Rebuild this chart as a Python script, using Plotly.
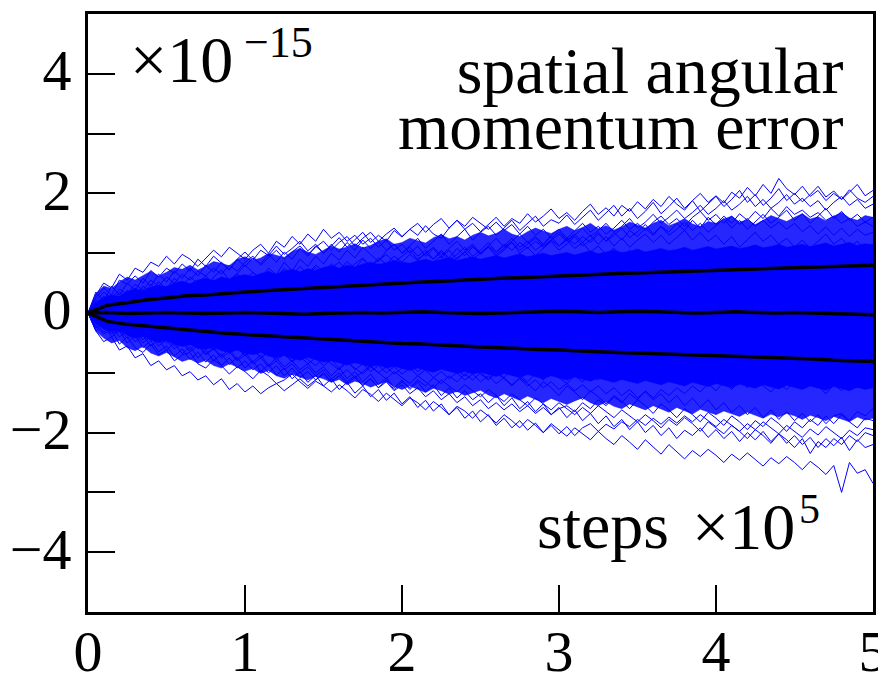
import plotly.graph_objects as go

# sample positions (units of 1e5 steps)
steps = [round(0.05 * i, 2) for i in range(101)]
steps_stats = [round(0.125 * i, 3) for i in range(41)]

# solid core of the ensemble (estimated edge of the fully blue region)
core_upper = [0, 0.18, 0.26, 0.3, 0.28, 0.36, 0.4, 0.37, 0.43, 0.46, 0.44,
              0.5, 0.53, 0.49, 0.55, 0.58, 0.54, 0.6, 0.57, 0.62, 0.64,
              0.61, 0.66, 0.69, 0.65, 0.7, 0.73, 0.69, 0.74, 0.71, 0.76,
              0.79, 0.75, 0.8, 0.77, 0.82, 0.85, 0.81, 0.84, 0.88, 0.85,
              0.83, 0.87, 0.9, 0.86, 0.89, 0.93, 0.88, 0.91, 0.94, 0.9,
              0.93, 0.96, 0.92, 0.95, 0.99, 0.94, 0.97, 1.0, 0.96, 0.98,
              1.01, 0.97, 1.0, 1.04, 0.99, 1.02, 1.05, 1.01, 1.03, 1.07,
              1.02, 1.05, 1.08, 1.04, 1.06, 1.1, 1.05, 1.08, 1.11, 1.07,
              1.09, 1.12, 1.08, 1.1, 1.14, 1.09, 1.11, 1.15, 1.1, 1.12,
              1.15, 1.11, 1.14, 1.17, 1.12, 1.15, 1.18, 1.13, 1.16, 1.14]
core_lower = [0, -0.17, -0.27, -0.31, -0.29, -0.37, -0.42, -0.39, -0.45, -0.49, -0.46,
              -0.52, -0.56, -0.53, -0.58, -0.61, -0.57, -0.63, -0.66, -0.62, -0.67,
              -0.7, -0.66, -0.72, -0.75, -0.71, -0.76, -0.79, -0.74, -0.78, -0.82,
              -0.8, -0.84, -0.87, -0.83, -0.86, -0.9, -0.87, -0.92, -0.89, -0.93,
              -0.96, -0.92, -0.95, -0.99, -0.94, -0.97, -1.01, -0.98, -1.02, -0.99,
              -1.03, -1.06, -1.01, -1.04, -1.08, -1.03, -1.07, -1.1, -1.05, -1.09,
              -1.12, -1.07, -1.11, -1.14, -1.09, -1.13, -1.16, -1.11, -1.15, -1.18,
              -1.13, -1.17, -1.2, -1.15, -1.18, -1.22, -1.16, -1.2, -1.23, -1.18,
              -1.21, -1.25, -1.19, -1.23, -1.26, -1.2, -1.24, -1.27, -1.21, -1.25,
              -1.28, -1.22, -1.26, -1.29, -1.23, -1.27, -1.3, -1.24, -1.28, -1.25]

# dense mesh of overlapping runs around the core (estimated edge)
mesh_upper = [0, 0.32, 0.45, 0.41, 0.52, 0.6, 0.55, 0.63, 0.7, 0.62, 0.68,
              0.76, 0.73, 0.8, 0.72, 0.78, 0.86, 0.83, 0.79, 0.9, 0.94,
              0.88, 0.92, 1.0, 0.97, 0.93, 1.03, 1.08, 1.02, 0.98, 1.05,
              1.12, 1.07, 1.1, 1.16, 1.09, 1.13, 1.2, 1.24, 1.15, 1.18,
              1.25, 1.21, 1.17, 1.26, 1.31, 1.24, 1.28, 1.22, 1.3, 1.35,
              1.29, 1.33, 1.4, 1.32, 1.28, 1.36, 1.42, 1.37, 1.33, 1.4,
              1.45, 1.38, 1.43, 1.5, 1.41, 1.46, 1.39, 1.44, 1.52, 1.47,
              1.42, 1.5, 1.55, 1.46, 1.51, 1.58, 1.49, 1.45, 1.53, 1.5,
              1.57, 1.62, 1.52, 1.56, 1.48, 1.55, 1.63, 1.58, 1.53, 1.6,
              1.66, 1.57, 1.61, 1.54, 1.62, 1.68, 1.59, 1.55, 1.63, 1.6]
mesh_lower = [0, -0.3, -0.42, -0.5, -0.46, -0.58, -0.63, -0.56, -0.67, -0.72, -0.66,
              -0.74, -0.81, -0.77, -0.84, -0.79, -0.88, -0.92, -0.85, -0.9, -0.97,
              -0.93, -1.01, -0.96, -1.05, -1.09, -1.02, -1.07, -1.12, -1.06, -1.1,
              -1.16, -1.11, -1.2, -1.14, -1.18, -1.24, -1.19, -1.15, -1.23, -1.28,
              -1.22, -1.27, -1.33, -1.26, -1.3, -1.36, -1.31, -1.38, -1.34, -1.29,
              -1.37, -1.42, -1.35, -1.4, -1.46, -1.39, -1.44, -1.5, -1.43, -1.48,
              -1.53, -1.47, -1.42, -1.5, -1.55, -1.49, -1.56, -1.6, -1.52, -1.57,
              -1.62, -1.55, -1.6, -1.66, -1.58, -1.63, -1.69, -1.61, -1.65, -1.7,
              -1.64, -1.68, -1.73, -1.66, -1.71, -1.76, -1.69, -1.74, -1.68, -1.72,
              -1.78, -1.71, -1.75, -1.8, -1.73, -1.77, -1.82, -1.74, -1.79, -1.76]

# individual error trajectories (values in units of 1e-15)
run_u1 = [0, 0.25, 0.42, 0.3, 0.55, 0.48, 0.62, 0.5, 0.71, 0.6, 0.75,
          0.66, 0.82, 0.7, 0.9, 0.78, 0.95, 0.84, 0.72, 0.9, 1.02,
          0.88, 1.05, 0.96, 1.12, 0.98, 1.08, 1.2, 1.04, 1.15, 1.0,
          1.12, 1.26, 1.1, 1.22, 1.35, 1.18, 1.3, 1.2, 1.38, 1.27,
          1.4, 1.3, 1.46, 1.32, 1.25, 1.42, 1.55, 1.4, 1.5, 1.36,
          1.48, 1.6, 1.45, 1.58, 1.5, 1.66, 1.52, 1.62, 1.74, 1.58,
          1.68, 1.55, 1.7, 1.82, 1.65, 1.76, 1.62, 1.8, 1.7, 1.86,
          1.74, 1.9, 1.78, 1.95, 1.82, 1.72, 1.88, 2.0, 1.85, 1.96,
          1.84, 2.02, 1.92, 2.1, 1.96, 2.15, 2.0, 2.25, 2.08, 1.98,
          2.12, 1.95, 2.05, 1.88, 2.0, 1.9, 2.06, 1.92, 1.85, 1.95]
run_u2 = [0, -0.1, 0.15, 0.3, 0.2, 0.38, 0.25, 0.45, 0.35, 0.52, 0.4,
          0.58, 0.46, 0.6, 0.5, 0.42, 0.6, 0.72, 0.55, 0.66, 0.8,
          0.68, 0.58, 0.75, 0.64, 0.85, 0.7, 0.9, 0.78, 0.95, 0.82,
          1.0, 0.88, 1.05, 0.92, 1.1, 0.98, 0.86, 1.04, 1.15, 1.0,
          1.12, 1.25, 1.08, 1.2, 1.32, 1.15, 1.28, 1.4, 1.22, 1.35,
          1.45, 1.3, 1.42, 1.55, 1.38, 1.5, 1.62, 1.45, 1.56, 1.5,
          1.64, 1.48, 1.6, 1.72, 1.55, 1.68, 1.8, 1.62, 1.75, 1.58,
          1.7, 1.85, 1.66, 1.78, 1.92, 1.75, 1.88, 1.7, 1.82, 1.95,
          1.78, 1.9, 2.05, 1.85, 1.98, 1.8, 1.92, 2.08, 1.88, 2.0,
          1.86, 1.98, 2.12, 1.94, 2.04, 1.9, 2.02, 2.15, 1.96, 2.05]
run_u3 = [0, 0.3, 0.5, 0.42, 0.65, 0.55, 0.75, 0.68, 0.85, 0.78, 0.95,
          0.82, 0.98, 0.9, 0.78, 0.92, 1.05, 0.94, 1.1, 1.0, 0.9,
          1.05, 1.15, 1.0, 1.2, 1.1, 1.28, 1.15, 1.32, 1.2, 1.4,
          1.25, 1.35, 1.2, 1.3, 1.15, 1.25, 1.1, 1.22, 1.05, 1.15,
          1.0, 1.12, 0.95, 1.08, 0.92, 1.05, 0.9, 1.02, 1.12, 0.98,
          1.1, 0.95, 1.05, 1.18, 1.0, 1.1, 0.96, 1.08, 1.2, 1.05,
          1.15, 1.28, 1.12, 1.22, 1.35, 1.2, 1.3, 1.42, 1.26, 1.36,
          1.48, 1.32, 1.45, 1.3, 1.4, 1.52, 1.38, 1.5, 1.35, 1.46,
          1.58, 1.42, 1.55, 1.4, 1.52, 1.65, 1.5, 1.6, 1.72, 1.55,
          1.66, 1.5, 1.62, 1.75, 1.58, 1.7, 1.55, 1.65, 1.52, 1.6]
run_u4 = [0, 0.12, 0.05, 0.22, 0.15, 0.3, 0.2, 0.35, 0.28, 0.18, 0.32,
          0.42, 0.3, 0.45, 0.38, 0.5, 0.4, 0.55, 0.45, 0.6, 0.5,
          0.62, 0.52, 0.68, 0.58, 0.72, 0.6, 0.5, 0.65, 0.76, 0.62,
          0.75, 0.85, 0.7, 0.82, 0.92, 0.78, 0.88, 0.98, 0.85, 0.95,
          1.05, 0.9, 1.0, 1.1, 0.96, 1.08, 1.2, 1.05, 1.15, 1.0,
          1.12, 1.25, 1.1, 1.2, 1.32, 1.18, 1.28, 1.15, 1.3, 1.4,
          1.25, 1.38, 1.5, 1.35, 1.45, 1.32, 1.42, 1.55, 1.4, 1.5,
          1.38, 1.52, 1.62, 1.48, 1.58, 1.45, 1.6, 1.7, 1.55, 1.65,
          1.5, 1.62, 1.48, 1.58, 1.45, 1.55, 1.42, 1.52, 1.4, 1.5,
          1.36, 1.46, 1.32, 1.44, 1.3, 1.42, 1.28, 1.4, 1.3, 1.35]
run_u5 = [0, 0.2, 0.35, 0.25, 0.4, 0.32, 0.48, 0.38, 0.55, 0.45, 0.6,
          0.5, 0.65, 0.55, 0.7, 0.62, 0.75, 0.65, 0.8, 0.7, 0.85,
          0.95, 0.8, 0.92, 1.05, 0.9, 1.02, 1.12, 0.98, 1.1, 1.2,
          1.05, 1.18, 1.28, 1.12, 1.25, 1.35, 1.2, 1.32, 1.42, 1.28,
          1.4, 1.5, 1.35, 1.48, 1.58, 1.42, 1.55, 1.45, 1.6, 1.5,
          1.4, 1.52, 1.38, 1.48, 1.32, 1.45, 1.3, 1.4, 1.25, 1.36,
          1.22, 1.32, 1.18, 1.3, 1.15, 1.28, 1.12, 1.25, 1.1, 1.22,
          1.32, 1.18, 1.3, 1.15, 1.26, 1.38, 1.22, 1.35, 1.2, 1.3,
          1.15, 1.28, 1.1, 1.22, 1.35, 1.2, 1.3, 1.15, 1.25, 1.1,
          1.22, 1.08, 1.2, 1.32, 1.15, 1.25, 1.1, 1.2, 1.05, 1.15]
run_u6 = [0, 0.1, 0.2, 0.12, 0.28, 0.2, 0.35, 0.25, 0.4, 0.3, 0.45,
          0.35, 0.5, 0.4, 0.3, 0.45, 0.55, 0.42, 0.5, 0.6, 0.48,
          0.58, 0.45, 0.55, 0.65, 0.52, 0.62, 0.5, 0.6, 0.7, 0.58,
          0.68, 0.55, 0.65, 0.75, 0.62, 0.72, 0.82, 0.7, 0.8, 0.68,
          0.78, 0.88, 0.75, 0.85, 0.95, 0.82, 0.92, 1.02, 0.9, 1.0,
          1.1, 0.98, 1.08, 1.18, 1.05, 1.15, 1.25, 1.12, 1.22, 1.32,
          1.2, 1.3, 1.42, 1.28, 1.38, 1.5, 1.35, 1.45, 1.58, 1.42,
          1.52, 1.65, 1.5, 1.6, 1.72, 1.58, 1.68, 1.8, 1.65, 1.75,
          1.88, 1.72, 1.82, 1.95, 1.78, 1.9, 1.75, 1.85, 1.98, 1.82,
          1.92, 1.78, 1.88, 1.72, 1.85, 1.95, 1.8, 1.9, 1.75, 1.82]
run_u7 = [0, 0.35, 0.2, 0.45, 0.3, 0.5, 0.38, 0.58, 0.45, 0.65, 0.52,
          0.7, 0.58, 0.75, 0.62, 0.8, 0.68, 0.85, 0.72, 0.9, 0.78,
          0.92, 0.82, 0.98, 0.85, 1.02, 0.9, 1.08, 0.95, 1.12, 1.0,
          1.15, 1.02, 1.18, 1.05, 1.22, 1.08, 1.2, 1.05, 1.15, 1.0,
          1.1, 0.95, 1.05, 0.9, 1.02, 0.88, 0.98, 1.1, 0.95, 1.05,
          1.18, 1.02, 1.12, 1.25, 1.1, 1.2, 1.05, 1.15, 1.28, 1.12,
          1.22, 1.08, 1.18, 1.02, 1.12, 0.98, 1.08, 0.95, 1.05, 0.92,
          1.02, 0.88, 0.98, 0.85, 0.95, 1.08, 0.92, 1.02, 0.88, 1.0,
          0.85, 0.96, 0.82, 0.92, 1.05, 0.9, 1.0, 0.86, 0.98, 0.84,
          0.95, 0.82, 0.92, 1.04, 0.88, 0.98, 0.85, 0.96, 0.88, 0.95]
run_u8 = [0, 0.15, 0.28, 0.18, 0.35, 0.25, 0.42, 0.3, 0.48, 0.36, 0.25,
          0.4, 0.52, 0.38, 0.5, 0.62, 0.48, 0.6, 0.5, 0.65, 0.55,
          0.68, 0.56, 0.7, 0.6, 0.75, 0.62, 0.78, 0.65, 0.8, 0.7,
          0.82, 0.72, 0.86, 0.75, 0.9, 0.78, 0.92, 0.82, 0.95, 0.85,
          0.98, 0.88, 1.0, 0.9, 1.05, 0.92, 1.08, 0.96, 1.1, 1.0,
          1.12, 1.02, 1.15, 1.05, 1.18, 1.08, 1.2, 1.1, 1.22, 1.12,
          1.25, 1.15, 1.28, 1.18, 1.32, 1.2, 1.35, 1.22, 1.38, 1.28,
          1.42, 1.3, 1.45, 1.35, 1.5, 1.38, 1.55, 1.42, 1.6, 1.48,
          1.62, 1.5, 1.66, 1.55, 1.7, 1.58, 1.75, 1.62, 1.78, 1.65,
          1.72, 1.6, 1.68, 1.55, 1.62, 1.5, 1.58, 1.45, 1.52, 1.45]
run_l1 = [0, -0.22, -0.35, -0.28, -0.52, -0.4, -0.58, -0.66, -0.52, -0.7, -0.62,
          -0.8, -0.7, -0.66, -0.85, -0.92, -0.78, -0.88, -1.02, -0.9, -0.98,
          -1.1, -0.96, -1.05, -1.18, -1.12, -1.02, -1.15, -1.26, -1.14, -1.22,
          -1.32, -1.2, -1.3, -1.42, -1.28, -1.36, -1.48, -1.34, -1.45, -1.55,
          -1.42, -1.5, -1.62, -1.48, -1.58, -1.7, -1.56, -1.64, -1.76, -1.62,
          -1.72, -1.84, -1.7, -1.8, -1.92, -1.78, -1.88, -2.0, -1.85, -1.96,
          -2.06, -1.92, -2.02, -2.12, -1.98, -2.1, -2.2, -2.05, -2.16, -2.28,
          -2.12, -2.24, -2.36, -2.2, -2.32, -2.44, -2.3, -2.4, -2.28, -2.38,
          -2.5, -2.36, -2.46, -2.34, -2.45, -2.56, -2.42, -2.52, -2.4, -2.5,
          -2.62, -2.48, -2.58, -2.7, -2.55, -3.0, -2.5, -2.68, -2.62, -2.85]
run_l2 = [0, -0.15, -0.05, -0.25, -0.18, -0.35, -0.28, -0.45, -0.32, -0.5, -0.4,
          -0.55, -0.45, -0.62, -0.5, -0.68, -0.58, -0.72, -0.6, -0.78, -0.65,
          -0.82, -0.7, -0.88, -0.75, -0.9, -0.8, -0.95, -0.85, -1.0, -0.9,
          -1.05, -0.92, -1.1, -0.98, -1.15, -1.02, -1.2, -1.08, -1.25, -1.12,
          -1.28, -1.15, -1.32, -1.2, -1.38, -1.25, -1.42, -1.3, -1.45, -1.35,
          -1.5, -1.38, -1.55, -1.42, -1.6, -1.48, -1.65, -1.52, -1.7, -1.58,
          -1.75, -1.62, -1.8, -1.68, -1.85, -1.72, -1.9, -1.78, -1.95, -1.82,
          -2.0, -1.88, -2.05, -1.92, -2.1, -1.96, -2.05, -1.92, -2.08, -1.95,
          -2.1, -1.98, -2.15, -2.0, -2.12, -1.98, -2.15, -2.02, -2.18, -2.05,
          -2.2, -2.08, -2.25, -2.1, -2.22, -2.08, -2.3, -2.12, -2.25, -2.2]
run_l3 = [0, -0.3, -0.48, -0.4, -0.62, -0.55, -0.75, -0.68, -0.88, -0.8, -0.95,
          -0.88, -1.05, -0.98, -1.12, -1.05, -1.2, -1.1, -1.28, -1.18, -1.32,
          -1.22, -1.35, -1.25, -1.18, -1.3, -1.2, -1.1, -1.22, -1.12, -1.02,
          -1.15, -1.05, -0.95, -1.08, -0.98, -0.88, -1.0, -0.9, -1.02, -0.92,
          -0.85, -0.98, -0.88, -0.8, -0.92, -0.84, -0.96, -1.05, -0.92, -1.02,
          -1.12, -1.0, -1.1, -1.22, -1.08, -1.18, -1.3, -1.15, -1.25, -1.38,
          -1.22, -1.32, -1.45, -1.3, -1.4, -1.52, -1.38, -1.48, -1.6, -1.45,
          -1.55, -1.68, -1.52, -1.62, -1.75, -1.6, -1.7, -1.82, -1.66, -1.76,
          -1.88, -1.72, -1.82, -1.95, -1.8, -1.9, -1.75, -1.85, -1.98, -1.82,
          -1.92, -1.78, -1.88, -1.72, -1.85, -1.7, -1.82, -1.92, -1.76, -1.8]
run_l4 = [0, -0.1, -0.22, -0.15, -0.3, -0.22, -0.38, -0.3, -0.2, -0.35, -0.45,
          -0.35, -0.5, -0.4, -0.55, -0.45, -0.6, -0.52, -0.65, -0.55, -0.7,
          -0.6, -0.75, -0.65, -0.55, -0.7, -0.8, -0.68, -0.78, -0.88, -0.75,
          -0.85, -0.95, -0.82, -0.92, -1.02, -0.9, -1.0, -1.1, -0.98, -1.08,
          -1.18, -1.05, -1.15, -1.25, -1.12, -1.22, -1.32, -1.2, -1.3, -1.4,
          -1.28, -1.38, -1.48, -1.35, -1.45, -1.55, -1.42, -1.52, -1.62, -1.5,
          -1.6, -1.7, -1.58, -1.68, -1.55, -1.65, -1.75, -1.62, -1.72, -1.82,
          -1.7, -1.8, -1.92, -1.78, -1.88, -1.75, -1.85, -1.98, -1.82, -1.92,
          -2.02, -1.88, -1.98, -2.1, -1.95, -2.05, -2.18, -2.02, -2.12, -2.25,
          -2.1, -2.35, -2.15, -2.25, -2.1, -2.2, -2.05, -2.15, -2.0, -2.05]
run_l5 = [0, -0.25, -0.15, -0.35, -0.28, -0.42, -0.35, -0.5, -0.4, -0.55, -0.45,
          -0.6, -0.5, -0.65, -0.55, -0.7, -0.6, -0.75, -0.65, -0.8, -0.7,
          -0.85, -0.75, -0.9, -0.8, -0.95, -0.85, -1.0, -0.9, -1.05, -0.95,
          -1.1, -1.0, -1.15, -1.05, -1.2, -1.1, -1.25, -1.15, -1.3, -1.2,
          -1.35, -1.25, -1.4, -1.3, -1.45, -1.35, -1.5, -1.4, -1.55, -1.45,
          -1.6, -1.5, -1.62, -1.52, -1.65, -1.55, -1.68, -1.58, -1.7, -1.6,
          -1.55, -1.65, -1.5, -1.6, -1.45, -1.55, -1.4, -1.5, -1.35, -1.45,
          -1.3, -1.42, -1.28, -1.38, -1.25, -1.35, -1.22, -1.32, -1.18, -1.3,
          -1.15, -1.28, -1.12, -1.25, -1.1, -1.22, -1.32, -1.18, -1.28, -1.15,
          -1.25, -1.12, -1.22, -1.35, -1.2, -1.3, -1.15, -1.25, -1.12, -1.2]
run_l6 = [0, -0.12, -0.25, -0.18, -0.32, -0.25, -0.4, -0.3, -0.45, -0.35, -0.5,
          -0.4, -0.55, -0.45, -0.6, -0.5, -0.62, -0.52, -0.68, -0.58, -0.72,
          -0.62, -0.75, -0.65, -0.8, -0.68, -0.82, -0.72, -0.85, -0.75, -0.88,
          -0.78, -0.92, -0.8, -0.95, -0.85, -0.98, -0.88, -1.0, -0.9, -1.02,
          -0.92, -1.05, -0.95, -1.08, -0.98, -1.1, -1.0, -1.12, -1.02, -1.15,
          -1.05, -1.18, -1.08, -1.2, -1.1, -1.22, -1.12, -1.25, -1.15, -1.28,
          -1.18, -1.3, -1.2, -1.32, -1.22, -1.35, -1.25, -1.38, -1.28, -1.42,
          -1.32, -1.45, -1.35, -1.5, -1.38, -1.55, -1.42, -1.58, -1.45, -1.62,
          -1.5, -1.66, -1.55, -1.7, -1.58, -1.75, -1.62, -1.78, -1.65, -1.8,
          -1.68, -1.82, -1.7, -1.85, -1.72, -1.68, -1.8, -1.65, -1.72, -1.6]
run_l7 = [0, -0.3, -0.18, -0.4, -0.3, -0.5, -0.38, -0.58, -0.46, -0.65, -0.55,
          -0.72, -0.6, -0.78, -0.65, -0.82, -0.7, -0.88, -0.75, -0.92, -0.8,
          -0.95, -0.85, -1.0, -0.88, -1.05, -0.92, -1.08, -0.98, -1.12, -1.0,
          -1.15, -1.05, -1.18, -1.08, -1.22, -1.1, -1.25, -1.12, -1.28, -1.15,
          -1.25, -1.12, -1.22, -1.08, -1.18, -1.05, -1.15, -1.02, -1.12, -1.0,
          -1.1, -0.98, -1.08, -0.95, -1.05, -1.15, -1.02, -1.12, -0.98, -1.08,
          -1.18, -1.05, -1.15, -1.02, -1.12, -0.98, -1.1, -0.96, -1.06, -0.94,
          -1.04, -0.92, -1.02, -0.9, -1.0, -1.1, -0.96, -1.06, -0.92, -1.02,
          -0.9, -1.0, -0.88, -0.98, -1.08, -0.95, -1.05, -0.92, -1.02, -0.9,
          -1.0, -0.88, -0.98, -0.86, -0.96, -1.06, -0.92, -1.02, -0.9, -0.95]
run_l8 = [0, -0.18, -0.32, -0.22, -0.4, -0.3, -0.48, -0.38, -0.55, -0.45, -0.62,
          -0.5, -0.68, -0.56, -0.75, -0.62, -0.8, -0.68, -0.86, -0.74, -0.92,
          -0.8, -0.98, -0.86, -1.04, -0.92, -1.1, -0.98, -1.16, -1.04, -1.22,
          -1.1, -1.28, -1.16, -1.34, -1.22, -1.4, -1.28, -1.46, -1.34, -1.52,
          -1.4, -1.58, -1.46, -1.64, -1.52, -1.7, -1.58, -1.76, -1.64, -1.82,
          -1.7, -1.88, -1.76, -1.92, -1.8, -1.96, -1.84, -2.0, -1.88, -2.02,
          -1.9, -2.05, -1.92, -1.85, -1.98, -1.86, -1.94, -1.82, -1.9, -1.78,
          -1.88, -1.76, -1.86, -1.74, -1.84, -1.72, -1.82, -1.7, -1.8, -1.9,
          -1.78, -1.88, -1.98, -1.85, -1.95, -1.82, -1.92, -2.02, -1.88, -1.98,
          -2.08, -1.94, -2.04, -1.9, -2.0, -2.1, -1.96, -2.05, -1.92, -1.95]

runs = [run_u1, run_u2, run_u3, run_u4, run_u5, run_u6, run_u7, run_u8,
        run_l1, run_l2, run_l3, run_l4, run_l5, run_l6, run_l7, run_l8]

# ensemble statistics (mean and +/- one standard deviation)
stat_mean = [0, 0.01, -0.01, 0.0, 0.01, 0.0, -0.01, 0.0, 0.01, 0.0, -0.01,
             -0.02, -0.01, 0.0, 0.01, 0.0, 0.01, 0.02, 0.01, 0.0, -0.01,
             0.0, 0.01, 0.02, 0.03, 0.02, 0.01, 0.02, 0.03, 0.02, 0.01,
             0.0, 0.01, 0.02, 0.01, 0.0, 0.01, 0.0, -0.01, -0.02, -0.03]
stat_upper = [0, 0.13, 0.17, 0.22, 0.25, 0.29, 0.30, 0.33, 0.35, 0.37, 0.39,
              0.41, 0.43, 0.45, 0.46, 0.48, 0.5, 0.52, 0.53, 0.55, 0.56,
              0.58, 0.59, 0.61, 0.62, 0.63, 0.65, 0.66, 0.67, 0.68, 0.70,
              0.71, 0.72, 0.73, 0.74, 0.75, 0.76, 0.77, 0.78, 0.79, 0.80]
stat_lower = [0, -0.14, -0.19, -0.22, -0.26, -0.28, -0.31, -0.34, -0.36, -0.38, -0.40,
              -0.42, -0.44, -0.45, -0.47, -0.49, -0.51, -0.52, -0.54, -0.55, -0.57,
              -0.58, -0.60, -0.61, -0.62, -0.64, -0.65, -0.66, -0.67, -0.69, -0.70,
              -0.71, -0.72, -0.73, -0.74, -0.75, -0.76, -0.77, -0.79, -0.80, -0.81]

x_ticks = [0, 1, 2, 3, 4, 5]
x_ticktext = ["0", "1", "2", "3", "4", "5"]
y_ticks = [-4, -3, -2, -1, 0, 1, 2, 3, 4]
y_ticktext = ["\u22124", "", "\u22122", "", "0", "", "2", "", "4"]

BLUE = "rgb(0,0,255)"
MESH = "rgba(0,0,255,0.85)"
FONT = "Liberation Serif, Times New Roman, serif"

fig = go.Figure()


def band(lower, upper, color):
    fig.add_trace(go.Scatter(x=steps[:len(lower)], y=lower, mode="lines",
                             line=dict(color=color, width=0.5), hoverinfo="skip"))
    fig.add_trace(go.Scatter(x=steps[:len(upper)], y=upper, mode="lines",
                             line=dict(color=color, width=0.5), fill="tonexty",
                             fillcolor=color, hoverinfo="skip"))


band(mesh_lower, mesh_upper, MESH)
band(core_lower, core_upper, BLUE)

for r in runs:
    fig.add_trace(go.Scatter(x=steps[:len(r)], y=r, mode="lines",
                             line=dict(color=BLUE, width=1), hoverinfo="skip"))

for s in (stat_upper, stat_mean, stat_lower):
    fig.add_trace(go.Scatter(x=steps_stats[:len(s)], y=s, mode="lines",
                             line=dict(color="black", width=3.5), hoverinfo="skip"))

# the page body has an 8px margin; compensate so the plot lands where the reference has it
OFF = 8
WIN_W, WIN_H = 886, 673
PL, PR, PT, PB = 88, 873, 14, 612   # plot area in window pixels
W, H = WIN_W - OFF, WIN_H - OFF
pw, ph = PR - PL, PB - PT


def px(xp):
    return (xp - PL) / pw


def py(yp):
    return (PB - yp) / ph


BIG = '<span style="font-size:66px">%s</span>'
ann = [
    dict(text="\u00d710", x=px(128), y=py(60), size=66, xanchor="left"),
    dict(text="\u221215", x=px(242), y=py(43), size=44, xanchor="left"),
    dict(text=(BIG % "spatial angular") + "<br>" + (BIG % "momentum error"),
         x=px(845), y=py(98), size=43, xanchor="right", align="right"),
    dict(text="steps", x=px(535), y=py(525), size=66, xanchor="left"),
    dict(text="\u00d710", x=px(690), y=py(526), size=66, xanchor="left"),
    dict(text="5", x=px(797), y=py(509), size=42, xanchor="left"),
]
for a in ann:
    fig.add_annotation(text=a["text"], x=a["x"], y=a["y"], xref="paper", yref="paper",
                       xanchor=a["xanchor"], yanchor="middle", showarrow=False,
                       align=a.get("align", "center"),
                       font=dict(family=FONT, size=a["size"], color="black"))

axis_common = dict(showline=True, linecolor="black", linewidth=3, mirror=True,
                   ticks="inside", ticklen=27, tickwidth=2, tickcolor="black",
                   showgrid=False, zeroline=False, automargin=False,
                   ticklabeloverflow="allow",
                   tickfont=dict(family=FONT, size=58, color="black"))

fig.update_layout(
    width=W, height=H, autosize=False,
    margin=dict(l=PL - OFF, r=WIN_W - PR, t=PT - OFF, b=WIN_H - PB, autoexpand=False),
    paper_bgcolor="white", plot_bgcolor="white",
    showlegend=False,
    xaxis=dict(range=[0, 5], tickmode="array", tickvals=x_ticks, ticktext=x_ticktext,
               ticklabelstandoff=-14, **axis_common),
    yaxis=dict(range=[-5, 5], tickmode="array", tickvals=y_ticks, ticktext=y_ticktext,
               ticklabelstandoff=2, ticklabelshift=-4, **axis_common),
)

fig.write_html("out.html")
